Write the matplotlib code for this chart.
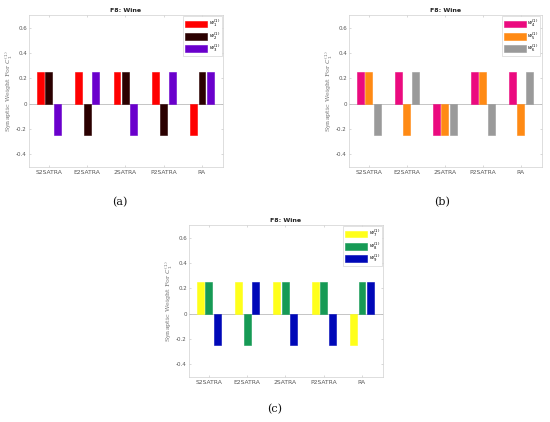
import numpy as np
import matplotlib
matplotlib.use("Agg")
import matplotlib.pyplot as plt

categories = ["S2SATRA", "E2SATRA", "2SATRA", "P2SATRA", "RA"]

# Panel (a)
a_w1 = [0.25, 0.25, 0.25, 0.25, -0.25]
a_w2 = [0.25, -0.25, 0.25, -0.25, 0.25]
a_w3 = [-0.25, 0.25, -0.25, 0.25, 0.25]
# Panel (b)
b_w4 = [0.25, 0.25, -0.25, 0.25, 0.25]
b_w5 = [0.25, -0.25, -0.25, 0.25, -0.25]
b_w6 = [-0.25, 0.25, -0.25, -0.25, 0.25]
# Panel (c)
c_w7 = [0.25, 0.25, 0.25, 0.25, -0.25]
c_w8 = [0.25, -0.25, 0.25, 0.25, 0.25]
c_w9 = [-0.25, 0.25, -0.25, -0.25, 0.25]

yticks = [-0.4, -0.2, 0, 0.2, 0.4, 0.6]
ytick_labels = ["-0.4", "-0.2", "0", "0.2", "0.4", "0.6"]

panels = [
    dict(rect=[0.0527, 0.6043, 0.3527, 0.3600], series=[a_w1, a_w2, a_w3],
         colors=["#ff0000", "#2b0000", "#6a00cc"],
         labels=[r"$w_1^{(1)}$", r"$w_2^{(1)}$", r"$w_3^{(1)}$"],
         caption="(a)", cap_xy=(0.218, 0.522)),
    dict(rect=[0.6345, 0.6043, 0.3505, 0.3600], series=[b_w4, b_w5, b_w6],
         colors=["#eb0a7f", "#ff8a14", "#9a9a9a"],
         labels=[r"$w_4^{(1)}$", r"$w_5^{(1)}$", r"$w_6^{(1)}$"],
         caption="(b)", cap_xy=(0.804, 0.522)),
    dict(rect=[0.3436, 0.1066, 0.3527, 0.3600], series=[c_w7, c_w8, c_w9],
         colors=["#ffff1a", "#169a55", "#0008b8"],
         labels=[r"$w_7^{(1)}$", r"$w_8^{(1)}$", r"$w_{9}^{(1)}$"],
         caption="(c)", cap_xy=(0.500, 0.030)),
]

fig = plt.figure(figsize=(5.5, 4.22), dpi=100)
x = np.arange(1, len(categories) + 1)
spacing = 0.222
bw = 0.178
for p in panels:
    ax = fig.add_axes(p["rect"])
    for i, (vals, col, lab) in enumerate(zip(p["series"], p["colors"], p["labels"])):
        ax.bar(x + (i - 1) * spacing, vals, width=bw, color=col,
               edgecolor=col, linewidth=0.4, label=lab, zorder=3)
    ax.axhline(0, color="#bbbbbb", linewidth=0.6, zorder=2)
    ax.set_xlim(0.48, 5.55)
    ax.set_ylim(-0.5, 0.7)
    ax.set_xticks(x)
    ax.set_xticklabels(categories, fontsize=4.3, color="#555555")
    ax.set_yticks(yticks)
    ax.set_yticklabels(ytick_labels, fontsize=4.0, color="#555555")
    ax.tick_params(axis="x", pad=2.5)
    ax.tick_params(axis="y", pad=1.5)
    ax.tick_params(axis="both", direction="in", length=1.5, width=0.4,
                   color="#bbbbbb", top=True, right=True)
    for s in ax.spines.values():
        s.set_color("#d0d0d0")
        s.set_linewidth(0.5)
    ax.set_title("F8: Wine", fontsize=4.5, fontweight="bold", pad=2, color="#222222")
    ax.set_ylabel(r"Synaptic Weight For $C_1^{(1)}$", fontsize=4.6,
                  family="DejaVu Serif", color="#777777")
    ax.yaxis.set_label_coords(-0.074, 0.5)
    leg = ax.legend(loc="upper right", fontsize=3.8, handlelength=4.2,
                    handleheight=1.6, borderpad=0.3, labelspacing=0.2,
                    handletextpad=0.3, borderaxespad=0.25, fancybox=False,
                    framealpha=1, edgecolor="#cccccc")
    leg.get_frame().set_linewidth(0.4)
    fig.text(p["cap_xy"][0], p["cap_xy"][1], p["caption"], ha="center",
             va="center", fontsize=8, family="DejaVu Serif", color="#111111")

fig.savefig("out.png", dpi=100)
